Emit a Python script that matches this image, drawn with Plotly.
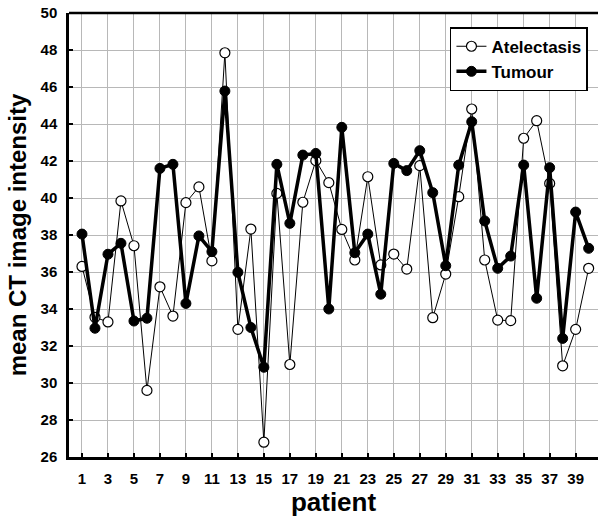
import plotly.graph_objects as go

patients = list(range(1, 41))
atelectasis = [36.3, 33.55, 33.3, 39.84, 37.42, 29.6, 35.2, 33.62, 39.75, 40.6,
               36.6, 47.85, 32.9, 38.32, 26.8, 40.25, 31.0, 39.77, 42.02, 40.83,
               38.3, 36.65, 41.15, 36.38, 36.97, 36.16, 41.75, 33.53, 35.89, 40.07,
               44.81, 36.65, 33.4, 33.37, 43.23, 44.18, 40.79, 30.93, 32.9, 36.2]
tumour = [38.05, 32.96, 36.96, 37.55, 33.35, 33.5, 41.6, 41.82, 34.3, 37.95,
          37.1, 45.78, 35.98, 33.0, 30.85, 41.82, 38.63, 42.32, 42.41, 34.0,
          43.82, 37.04, 38.05, 34.8, 41.87, 41.48, 42.56, 40.29, 36.34, 41.78,
          44.12, 38.76, 36.2, 36.86, 41.78, 34.58, 41.64, 32.41, 39.24, 37.28]
x_ticks = list(range(1, 40, 2))
y_ticks = list(range(26, 51, 2))

font_family = "Liberation Sans"

fig = go.Figure()
fig.add_trace(go.Scatter(
    x=patients, y=atelectasis, mode="lines+markers", name="Atelectasis",
    line=dict(color="black", width=1),
    marker=dict(symbol="circle", size=10, color="white",
                line=dict(color="black", width=1.2)),
))
fig.add_trace(go.Scatter(
    x=patients, y=tumour, mode="lines+markers", name="Tumour",
    line=dict(color="black", width=3.5),
    marker=dict(symbol="circle", size=10, color="black",
                line=dict(color="black", width=1)),
))

fig.update_layout(
    width=598, height=520,
    margin=dict(l=69, r=0, t=13, b=63),
    paper_bgcolor="white", plot_bgcolor="white",
    font=dict(family=font_family, color="black"),
    legend=dict(
        x=0.981, y=0.968, xanchor="right", yanchor="top",
        bgcolor="white", bordercolor="black", borderwidth=1.5,
        font=dict(size=17, family=font_family, weight="bold"),
        itemwidth=30, tracegroupgap=0,
    ),
    showlegend=True,
)
fig.update_xaxes(
    range=[0, 40.72], tickvals=x_ticks, ticktext=[str(v) for v in x_ticks],
    showgrid=True, gridcolor="#b8b8b8", gridwidth=1,
    showline=True, linecolor="black", linewidth=2.5, mirror=False,
    ticks="inside", ticklen=4, tickwidth=1.5, tickcolor="black",
    zeroline=False, ticklabelstandoff=6,
    tickfont=dict(size=15, family=font_family, weight="bold"),
    title=dict(text="patient", font=dict(size=26, family=font_family, weight="bold"),
               standoff=8),
)
fig.update_yaxes(
    range=[26, 50], tickvals=y_ticks, ticktext=[str(v) for v in y_ticks],
    showgrid=True, gridcolor="#b8b8b8", gridwidth=1,
    showline=True, linecolor="black", linewidth=2.5, mirror=False,
    ticks="inside", ticklen=4, tickwidth=1.5, tickcolor="black",
    zeroline=False, ticklabelstandoff=6,
    tickfont=dict(size=15, family=font_family, weight="bold"),
    title=dict(text="mean CT image intensity",
               font=dict(size=24, family=font_family, weight="bold"), standoff=8),
)
fig.add_shape(type="line", xref="paper", yref="paper", x0=0, x1=1, y0=1, y1=1,
              line=dict(color="black", width=2.5))

fig.write_html("out.html", config={"displayModeBar": False},
               post_script="document.body.style.margin='0';document.body.style.overflow='hidden';")
